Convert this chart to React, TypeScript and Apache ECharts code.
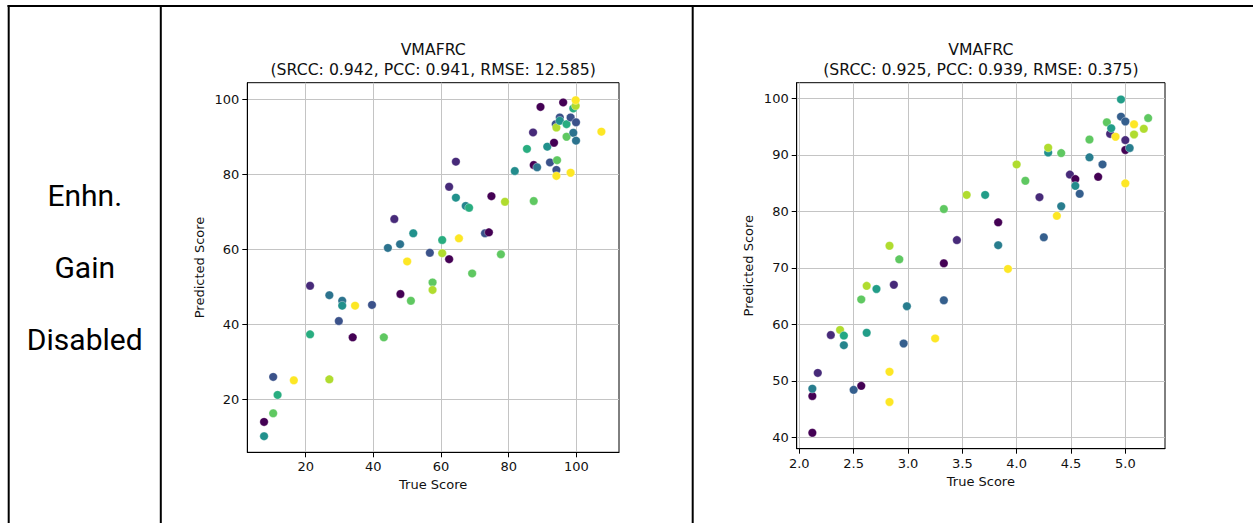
import React, { useEffect, useRef } from "react";
import * as echarts from "echarts";

// ---------- texts ----------
const rowLabelLines = ["Enhn.", "Gain", "Disabled"];
const chartTitle = "VMAFRC";
const leftStats = "(SRCC: 0.942, PCC: 0.941, RMSE: 12.585)";
const rightStats = "(SRCC: 0.925, PCC: 0.939, RMSE: 0.375)";
const xAxisName = "True Score";
const yAxisName = "Predicted Score";

// ---------- tick labels ----------
const leftXTicks = [20, 40, 60, 80, 100];
const leftYTicks = [20, 40, 60, 80, 100];
const rightXTicks = [2.0, 2.5, 3.0, 3.5, 4.0, 4.5, 5.0];
const rightYTicks = [40, 50, 60, 70, 80, 90, 100];

// ---------- left panel data (true score 0-100) ----------
const leftTrue = [
  7.7, 7.7, 10.4, 11.7, 10.4, 16.5, 21.3, 21.3, 27.0, 27.0, 30.8, 30.8, 29.8, 33.9, 34.6, 39.6,
  43.1, 44.3, 46.2, 47.9, 48.0, 50.0, 51.8, 51.1, 56.7, 57.5, 57.5, 60.35, 60.35, 62.4, 62.4,
  64.4, 64.4, 65.3, 67.3, 68.3, 69.2, 73.0, 74.15, 74.9, 78.9, 77.7, 81.8, 85.4, 87.2, 87.4,
  87.4, 88.4, 89.4, 91.4, 92.2, 93.4, 94.1, 94.1, 94.3, 93.9, 94.1, 95.1, 95.1, 96.1, 97.1,
  97.1, 98.3, 98.3, 99.1, 99.9, 99.9, 99.1, 99.8, 99.8, 107.4,
];
const leftPred = [
  13.9, 10.1, 25.9, 21.1, 16.2, 25.0, 50.2, 37.25, 47.7, 25.25, 46.2, 44.9, 40.8, 36.45, 44.9, 45.1,
  36.45, 60.3, 68.0, 61.3, 48.0, 56.7, 64.2, 46.2, 59.0, 51.1, 49.1, 62.4, 58.9, 57.3, 76.6,
  83.3, 73.7, 62.85, 71.5, 71.0, 53.5, 64.2, 64.45, 74.1, 72.6, 58.6, 80.8, 86.7, 91.1, 72.8,
  82.4, 81.8, 97.9, 87.3, 83.1, 88.35, 81.1, 79.5, 83.7, 93.3, 92.4, 95.1, 94.2, 99.1, 93.3,
  89.95, 80.35, 95.1, 91.0, 93.8, 88.9, 97.5, 98.2, 99.7, 91.3,
];
const leftHue = [
  0, 0.5, 0.25, 0.62, 0.75, 1, 0.12, 0.62, 0.38, 0.88, 0.38, 0.5, 0.25, 0, 1, 0.25,
  0.75, 0.38, 0.12, 0.38, 0, 1, 0.5, 0.75, 0.25, 0.75, 0.88, 0.62, 0.88, 0, 0.12,
  0.12, 0.5, 1, 0.45, 0.62, 0.75, 0.25, 0, 0, 0.88, 0.75, 0.48, 0.62, 0.12, 0.75,
  0, 0.38, 0, 0.5, 0.25, 0, 0.25, 1, 0.75, 0.25, 0.88, 0.25, 0.5, 0, 0.62,
  0.75, 1, 0.25, 0.38, 0.25, 0.38, 0.62, 0.88, 1, 1,
];

// ---------- right panel data (true score 1-5 MOS) ----------
const rightTrue = [
  2.12, 2.12, 2.12, 2.17, 2.5, 2.57, 2.83, 2.83, 2.29, 2.375, 2.41, 2.41, 2.62, 2.96, 3.25, 2.57,
  2.62, 2.71, 2.87, 2.99, 3.33, 2.83, 2.92, 3.33, 3.45, 3.33, 3.54, 3.71, 3.83, 3.83, 3.92,
  4.0, 4.08, 4.21, 4.25, 4.37, 4.41, 4.29, 4.29, 4.41, 4.49, 4.54, 4.54, 4.58, 4.67, 4.67,
  4.75, 4.79, 4.83, 4.86, 4.87, 4.91, 4.96, 4.96, 5.0, 5.08, 5.21, 5.17, 5.08, 5.0, 5.0, 5.04, 5.0,
];
const rightPred = [
  40.8, 47.3, 48.6, 51.4, 48.4, 49.1, 51.6, 46.25, 58.1, 59.0, 58.0, 56.3, 58.5, 56.6, 57.5, 64.4,
  66.8, 66.25, 67.0, 63.2, 64.25, 73.9, 71.5, 70.8, 74.9, 80.4, 82.9, 82.9, 78.05, 74.0, 69.8,
  88.3, 85.4, 82.5, 75.4, 79.2, 80.9, 90.4, 91.25, 90.3, 86.5, 85.7, 84.5, 83.1, 92.7, 89.55,
  86.1, 88.3, 95.75, 93.7, 94.7, 93.2, 99.8, 96.75, 95.9, 95.4, 96.5, 94.6, 93.6, 92.6, 90.85, 91.2, 84.95,
];
const rightHue = [
  0, 0, 0.42, 0.12, 0.3, 0, 1, 1, 0.12, 0.88, 0.6, 0.45, 0.55, 0.3, 1, 0.75,
  0.88, 0.55, 0.12, 0.42, 0.3, 0.88, 0.75, 0, 0.12, 0.75, 0.88, 0.55, 0, 0.42, 1,
  0.88, 0.75, 0.12, 0.3, 1, 0.42, 0.5, 0.88, 0.75, 0.12, 0, 0.48, 0.3, 0.75, 0.42,
  0, 0.3, 0.75, 0.12, 0.55, 1, 0.55, 0.3, 0.3, 1, 0.75, 0.88, 0.88, 0.12, 0, 0.42, 1,
];

const viridis = [
  "#440154", "#482475", "#414487", "#355f8d", "#2a788e", "#21918c",
  "#22a884", "#44bf70", "#7ad151", "#bddf26", "#fde725",
];

const MPL_FONT = "DejaVu Sans";
const INK = "#111";

function axisBase(ticks: number[], fmt?: (v: number) => string) {
  return {
    type: "value" as const,
    axisLine: { show: true, onZero: false, lineStyle: { color: "#000", width: 1 } },
    axisTick: { show: true, inside: false, length: 5, customValues: ticks, lineStyle: { color: "#000", width: 1 } },
    axisLabel: {
      customValues: ticks,
      margin: 8,
      fontFamily: MPL_FONT,
      fontSize: 13,
      color: INK,
      formatter: fmt ? (v: number) => fmt(v) : undefined,
    },
    splitLine: { show: true, lineStyle: { color: "#c4c4c4", width: 1 } },
    nameLocation: "middle" as const,
    nameTextStyle: { fontFamily: MPL_FONT, fontSize: 13, color: INK },
  };
}

export default function App() {
  const ref = useRef<HTMLDivElement>(null);
  useEffect(() => {
    if (!ref.current) return;
    const chart = echarts.init(ref.current, null, { renderer: "svg" });

    const leftData = leftTrue.map((x, i) => [x, leftPred[i], leftHue[i]]);
    const rightData = rightTrue.map((x, i) => [x, rightPred[i], rightHue[i]]);

    const grids = [
      { left: 247.3, top: 82.7, width: 371.7, height: 369.6 },
      { left: 796.7, top: 82.7, width: 368.3, height: 366 },
    ];

    const lineStyle = { stroke: "#000", lineWidth: 2 };
    const rowTexts = rowLabelLines.map((t, i) => ({
      type: "text",
      style: {
        text: t,
        x: 84.75,
        y: 195 + i * 72,
        fill: "#000",
        fontFamily: "Roboto",
        fontSize: 30,
        align: "center",
        verticalAlign: "middle",
        textAlign: "center",
        textVerticalAlign: "middle",
      },
    }));
    const titleText = (t: string, x: number, y: number) => ({
      type: "text",
      style: {
        text: t,
        x,
        y,
        fill: INK,
        fontFamily: MPL_FONT,
        fontSize: 15.7,
        align: "center",
        verticalAlign: "middle",
        textAlign: "center",
        textVerticalAlign: "middle",
      },
    });

    chart.setOption({
      animation: false,
      backgroundColor: "#fff",
      grid: grids.map((g) => ({ ...g, show: true, borderColor: "#000", borderWidth: 1, backgroundColor: "transparent" })),
      xAxis: [
        { ...axisBase(leftXTicks), gridIndex: 0, min: 2.75, max: 112.6, name: xAxisName, nameGap: 26 },
        { ...axisBase(rightXTicks, (v) => v.toFixed(1)), gridIndex: 1, min: 1.976, max: 5.365, name: xAxisName, nameGap: 25.5 },
      ],
      yAxis: [
        { ...axisBase(leftYTicks), gridIndex: 0, min: 5.8, max: 104.35, name: yAxisName, nameGap: 41, nameRotate: 90 },
        { ...axisBase(rightYTicks), gridIndex: 1, min: 37.98, max: 102.76, name: yAxisName, nameGap: 42, nameRotate: 90 },
      ],
      visualMap: [
        { type: "continuous", show: false, seriesIndex: 0, dimension: 2, min: 0, max: 1, inRange: { color: viridis } },
        { type: "continuous", show: false, seriesIndex: 1, dimension: 2, min: 0, max: 1, inRange: { color: viridis } },
      ],
      series: [
        {
          type: "scatter",
          xAxisIndex: 0,
          yAxisIndex: 0,
          data: leftData,
          symbolSize: 8.5,
          itemStyle: { opacity: 1, borderColor: "rgba(255,255,255,0.7)", borderWidth: 0.5 },
          emphasis: { disabled: true },
        },
        {
          type: "scatter",
          xAxisIndex: 1,
          yAxisIndex: 1,
          data: rightData,
          symbolSize: 8.5,
          itemStyle: { opacity: 1, borderColor: "rgba(255,255,255,0.7)", borderWidth: 0.5 },
          emphasis: { disabled: true },
        },
      ],
      graphic: [
        { type: "line", shape: { x1: 7.5, y1: 6, x2: 1253, y2: 6 }, style: lineStyle },
        { type: "line", shape: { x1: 8.7, y1: 5, x2: 8.7, y2: 523 }, style: lineStyle },
        { type: "line", shape: { x1: 160.8, y1: 5, x2: 160.8, y2: 523 }, style: lineStyle },
        { type: "line", shape: { x1: 692.7, y1: 5, x2: 692.7, y2: 523 }, style: lineStyle },
        ...rowTexts,
        titleText(chartTitle, 433.2, 49),
        titleText(leftStats, 433.2, 69.5),
        titleText(chartTitle, 980.9, 49),
        titleText(rightStats, 980.9, 69.5),
      ],
    });
    return () => chart.dispose();
  }, []);
  return (
    <div
      ref={ref}
      style={{ position: "absolute", left: 0, top: 0, width: 1253, height: 523, background: "#fff" }}
    />
  );
}
